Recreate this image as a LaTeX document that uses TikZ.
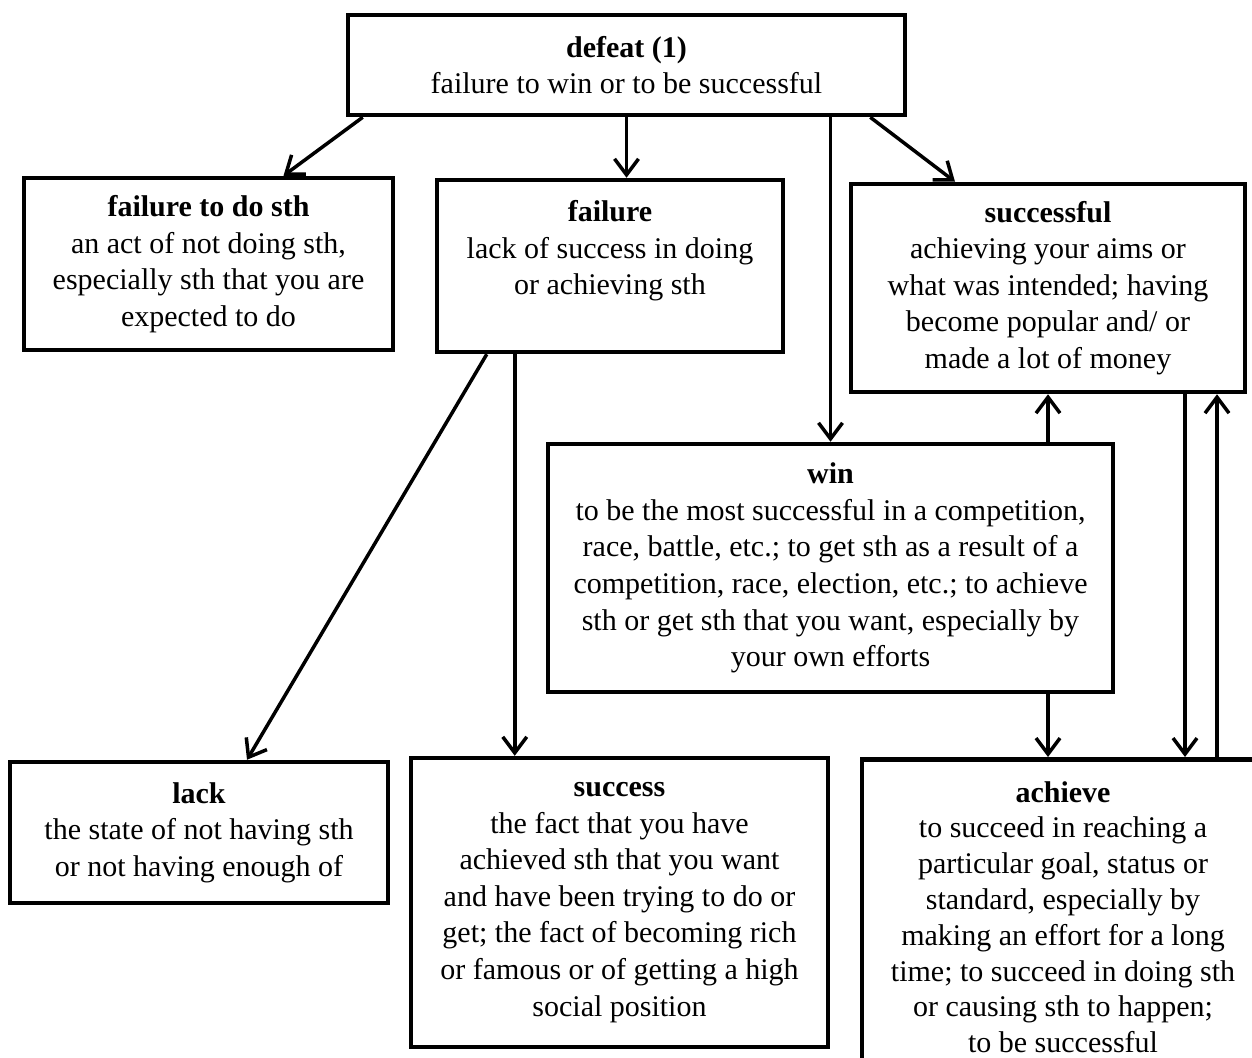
\documentclass[tikz,border=0pt]{standalone}
\usepackage{fontspec}
\setmainfont{Liberation Serif}
\usetikzlibrary{arrows.meta}

\tikzset{
  defbox/.style={draw, line width=4.5pt, align=center, inner sep=0pt,
    font=\fontsize{30}{36.6}\selectfont},
  link/.style={line width=3.5pt, -{Straight Barb[length=16pt,width=24pt,line width=3.5pt]}}
}

\begin{document}
\begin{tikzpicture}[x=1pt,y=-1pt]
		\useasboundingbox (0,0) rectangle (1252,1057);
		\clip (0,0) rectangle (1252,1057);

		\node[defbox, minimum width=557pt, minimum height=100pt] (defeat) at (626.5,65)
			{\textbf{defeat (1)}\\failure to win or to be successful};

		\node[defbox, minimum width=369pt, minimum height=172pt] (fdo) at (208.5,264)
			{\textbf{failure to do sth}\\an act of not doing sth,\\especially sth that you are\\expected to do};
		\node[defbox, minimum width=346pt, minimum height=172pt] (fail) at (610,266)
			{\textbf{failure}\\lack of success in doing\\or achieving sth\\ };
		\node[defbox, minimum width=394pt, minimum height=208pt] (succl) at (1048,288)
			{\textbf{successful}\\achieving your aims or\\what was intended; having\\become popular and/ or\\made a lot of money};

		\node[defbox, minimum width=565pt, minimum height=248pt] (win) at (830.5,568)
			{\textbf{win}\\to be the most successful in a competition,\\race, battle, etc.; to get sth as a result of a\\competition, race, election, etc.; to achieve\\sth or get sth that you want, especially by\\your own efforts};

		\node[defbox, minimum width=378pt, minimum height=141pt] (lack) at (199,832.5)
			{\textbf{lack}\\the state of not having sth\\or not having enough of};
		\node[defbox, minimum width=417pt, minimum height=289pt] (success) at (619.5,902.5)
			{\textbf{success}\\the fact that you have\\achieved sth that you want\\and have been trying to do or\\get; the fact of becoming rich\\or famous or of getting a high\\social position};
		\node[defbox, minimum width=402pt, inner ysep=22pt, anchor=north, font=\fontsize{30}{35.8}\selectfont] (achieve) at (1063,757)
			{\textbf{achieve}\\to succeed in reaching a\\particular goal, status or\\standard, especially by\\making an effort for a long\\time; to succeed in doing sth\\or causing sth to happen;\\to be successful};

		\draw[link] ([xshift=17pt]defeat.south west) -- ([xshift=75pt]fdo.north);
		\draw[link] (defeat.south) -- (defeat.south |- fail.north);
		\draw[link] (defeat.south -| win.north) -- (win.north);
		\draw[link] ([xshift=-37pt]defeat.south east) -- ([xshift=-93pt]succl.north);

		\draw[link] ([xshift=52pt]fail.south west) -- ([xshift=48pt]lack.north);
		\draw[link] ([xshift=80pt]fail.south west) -- ([xshift=80pt]fail.south west |- success.north);

		\draw[link] (win.north -| succl.south) -- (succl.south);
		\draw[link] (win.south -| succl.south) -- (succl.south |- achieve.north);
		\draw[link] ([xshift=137pt]succl.south) -- ([xshift=137pt]succl.south |- achieve.north);
		\draw[link] ([xshift=169pt]succl.south |- achieve.north) -- ([xshift=169pt]succl.south);
	\end{tikzpicture}
\end{document}
